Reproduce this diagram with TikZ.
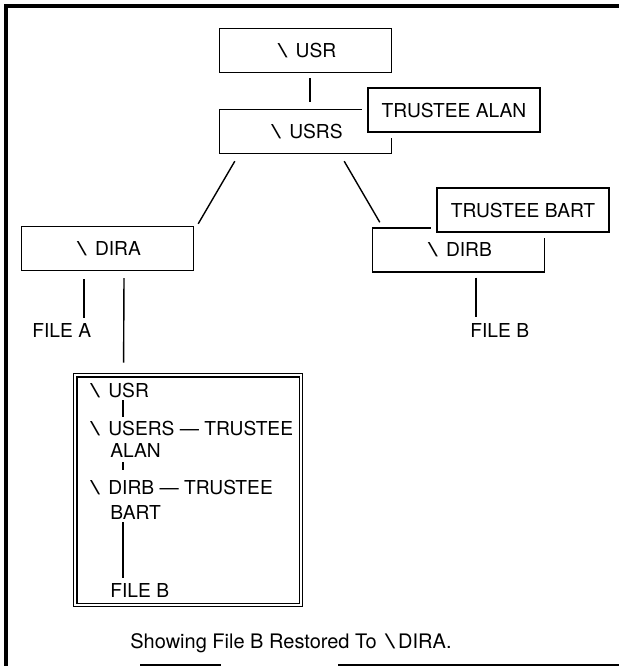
\documentclass[tikz,border=0pt]{standalone}
\usepackage{fontspec}
\setmainfont{TeX Gyre Heros}
\usepackage{graphicx}
\usetikzlibrary{calc,positioning}
\newcommand{\bsl}{\kern1.5pt\scalebox{1.8}[1]{\textbackslash}\kern1.5pt}
\tikzset{
  dir/.style={rectangle,draw=black,fill=white,line width=.7pt,minimum width=86pt,minimum height=22pt,inner sep=0pt,font=\fontsize{9.6}{11}\selectfont},
  tru/.style={dir,preaction={draw=white,line width=6pt}},
  lnk/.style={draw=black,line width=.7pt},
  lb/.style={inner sep=0pt,anchor=base west,font=\fontsize{9.6}{11}\selectfont},
  frm/.style={draw=black,line width=1.7pt},
  nst/.style={rectangle,draw=black,double=white,double distance=1.1pt,line width=.6pt,inner sep=0pt,minimum width=112.8pt,minimum height=114.8pt},
}
\begin{document}
\begin{tikzpicture}[x=0.5pt,y=-0.5pt]
\useasboundingbox (0,0) rectangle (619,666);
% ---- frame
\draw[frm] (619,6) -- (6,6) -- (6,666);
\draw[line width=.8pt] (140,665) -- (221,665) (338,665) -- (619,665);
% ---- directory tree
\node[dir] (usr)  at (305.5,50.5)  {\bsl\ USR};
\node[dir] (usrs) at (305.5,131.5) {\bsl\ USRS};
\node[tru] (alan) at (454,110)     {TRUSTEE ALAN};
\node[dir] (dira) at (107.5,248.5) {\bsl\ DIRA};
\node[dir] (dirb) at (458.5,250)   {\bsl\ DIRB};
\node[tru] (bart) at (523,210)     {TRUSTEE BART};
\node[lb] (filea) at (32,337)  {FILE A};
\node[lb] (fileb) at (470,337) {FILE B};
\draw[lnk] ($(usr.south)+(4.5,5)$) -- ($(usrs.north)+(4.5,-7)$);
\draw[lnk] ($(usrs.south west)+(16,7)$) -- ($(dira.north east)+(4,-2)$);
\draw[lnk] ($(usrs.south east)+(-48,7)$) -- ($(dirb.north west)+(8,-5)$);
\draw[lnk] ($(dira.south)+(-23.5,8)$) -- ($(filea.base west)+(52,-19)$);
\draw[lnk] ($(dirb.south)+(17.5,5)$) -- ($(fileb.base west)+(6,-20)$);
% ---- restored copy
\node[nst] (nest) at (188,490) {};
\draw[lnk] ($(dira.south)+(16.5,7)$) -- ($(nest.north west)+(49,-12)$);
\node[lb] (n1) at (87,397)  {\bsl\ USR};
\node[lb] (n2) at (87,435)  {\bsl\ USERS --- TRUSTEE};
\node[lb] (n3) at (110,457) {ALAN};
\node[lb] (n4) at (87,494)  {\bsl\ DIRB --- TRUSTEE};
\node[lb] (n5) at (110,519) {BART};
\node[lb] (n6) at (110,597) {FILE B};
\draw[lnk] ($(n1.base west)+(36,3)$) -- ($(n2.base west)+(36,-18)$);
\draw[lnk] ($(n3.base west)+(13,5)$) -- ($(n4.base west)+(36,-24)$);
\draw[lnk] ($(n5.base west)+(13,3)$) -- ($(n6.base west)+(13,-19)$);
\node[lb,font=\fontsize{10}{12}\selectfont] (cap) at (130,648) {Showing File B Restored To \bsl DIRA.};
\end{tikzpicture}
\end{document}
